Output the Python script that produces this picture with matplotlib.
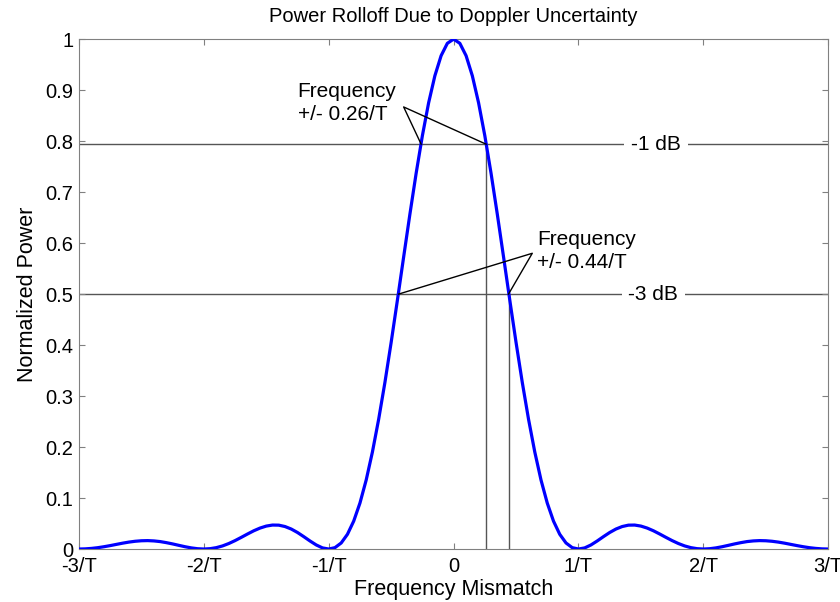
import matplotlib
matplotlib.use("Agg")
import matplotlib.pyplot as plt
import numpy as np

plt.rcParams['font.family'] = ['Liberation Sans', 'DejaVu Sans']

#-------------------- DATA -------------------#
# frequency mismatch (in units of 1/T) and normalized power
freq = [-3.0, -2.95, -2.9, -2.85, -2.8, -2.75, -2.7, -2.65, -2.6, -2.55,
        -2.5, -2.45, -2.4, -2.35, -2.3, -2.25, -2.2, -2.15, -2.1, -2.05,
        -2.0, -1.95, -1.9, -1.85, -1.8, -1.75, -1.7, -1.65, -1.6, -1.55,
        -1.5, -1.45, -1.4, -1.35, -1.3, -1.25, -1.2, -1.15, -1.1, -1.05,
        -1.0, -0.95, -0.9, -0.85, -0.8, -0.75, -0.7, -0.65, -0.6, -0.55,
        -0.5, -0.45, -0.4, -0.35, -0.3, -0.25, -0.2, -0.15, -0.1, -0.05,
        0.0,
        0.05, 0.1, 0.15, 0.2, 0.25, 0.3, 0.35, 0.4, 0.45, 0.5,
        0.55, 0.6, 0.65, 0.7, 0.75, 0.8, 0.85, 0.9, 0.95, 1.0,
        1.05, 1.1, 1.15, 1.2, 1.25, 1.3, 1.35, 1.4, 1.45, 1.5,
        1.55, 1.6, 1.65, 1.7, 1.75, 1.8, 1.85, 1.9, 1.95, 2.0,
        2.05, 2.1, 2.15, 2.2, 2.25, 2.3, 2.35, 2.4, 2.45, 2.5,
        2.55, 2.6, 2.65, 2.7, 2.75, 2.8, 2.85, 2.9, 2.95, 3.0]
power = [0.0, 0.0003, 0.0012, 0.0026, 0.0045, 0.0067, 0.0091, 0.0115, 0.0136, 0.0152,
         0.0162, 0.0165, 0.0159, 0.0146, 0.0125, 0.0100, 0.0072, 0.0045, 0.0022, 0.0006,
         0.0, 0.0007, 0.0027, 0.0061, 0.0108, 0.0165, 0.0229, 0.0295, 0.0358, 0.0411,
         0.0450, 0.0470, 0.0468, 0.0441, 0.0392, 0.0324, 0.0243, 0.0158, 0.0080, 0.0022,
         0.0, 0.0027, 0.0119, 0.0289, 0.0547, 0.0901, 0.1353, 0.1904, 0.2546, 0.3267,
         0.4053, 0.4881, 0.5728, 0.6566, 0.7368, 0.8106, 0.8751, 0.9281, 0.9675, 0.9918,
         1.0,
         0.9918, 0.9675, 0.9281, 0.8751, 0.8106, 0.7368, 0.6566, 0.5728, 0.4881, 0.4053,
         0.3267, 0.2546, 0.1904, 0.1353, 0.0901, 0.0547, 0.0289, 0.0119, 0.0027, 0.0,
         0.0022, 0.0080, 0.0158, 0.0243, 0.0324, 0.0392, 0.0441, 0.0468, 0.0470, 0.0450,
         0.0411, 0.0358, 0.0295, 0.0229, 0.0165, 0.0108, 0.0061, 0.0027, 0.0007, 0.0,
         0.0006, 0.0022, 0.0045, 0.0072, 0.0100, 0.0125, 0.0146, 0.0159, 0.0165, 0.0162,
         0.0152, 0.0136, 0.0115, 0.0091, 0.0067, 0.0045, 0.0026, 0.0012, 0.0003, 0.0]

db_levels = [0.794, 0.5]          # -1 dB and -3 dB power
db_labels = ['-1 dB', '-3 dB']
db_label_x = [1.62, 1.60]
half_widths = [0.26, 0.44]        # frequency offsets where the levels are crossed
ann_labels = ['Frequency\n+/- 0.26/T', 'Frequency\n+/- 0.44/T']
ann_vertex = [(-0.40, 0.867), (0.63, 0.580)]
ann_text_pos = [(-1.25, 0.915), (0.67, 0.625)]

xtick_vals = [-3, -2, -1, 0, 1, 2, 3]
xtick_labels = ['-3/T', '-2/T', '-1/T', '0', '1/T', '2/T', '3/T']
ytick_vals = [0, 0.1, 0.2, 0.3, 0.4, 0.5, 0.6, 0.7, 0.8, 0.9, 1]
ytick_labels = ['0', '0.1', '0.2', '0.3', '0.4', '0.5', '0.6', '0.7', '0.8', '0.9', '1']

#------------------ PLOT -------------------#
fig = plt.figure(figsize=(8.4, 6.02), dpi=100)
ax = fig.add_axes([0.094, 0.088, 0.892, 0.847])

gray = '#555555'
for lvl, lab, lx in zip(db_levels, db_labels, db_label_x):
    ax.axhline(lvl, color=gray, lw=1.0, zorder=1)
    ax.text(lx, lvl, lab, ha='center', va='center', fontsize=15, zorder=3,
            bbox=dict(facecolor='white', edgecolor='none', pad=5))

for hw, lvl in zip(half_widths, db_levels):
    ax.plot([hw, hw], [0, lvl], color=gray, lw=1.0, zorder=1)

ax.plot(freq, power, color='#0000ff', lw=2.3, zorder=4)

for hw, lvl, lab, v, tp in zip(half_widths, db_levels, ann_labels, ann_vertex, ann_text_pos):
    ax.plot([-hw, v[0], hw], [lvl, v[1], lvl], color='black', lw=1.0, zorder=5)
    ax.text(tp[0], tp[1], lab, ha='left', va='top', fontsize=15, linespacing=1.25, zorder=5)

ax.set_xlim(-3, 3)
ax.set_ylim(0, 1)
ax.set_xticks(xtick_vals)
ax.set_xticklabels(xtick_labels)
ax.set_yticks(ytick_vals)
ax.set_yticklabels(ytick_labels)
ax.tick_params(direction='in', top=True, right=True, length=4, labelsize=14.5,
               color='#808080')
ax.tick_params(axis='x', pad=6)
ax.tick_params(axis='y', pad=4)
for sp in ax.spines.values():
    sp.set_color('#808080')

ax.set_title('Power Rolloff Due to Doppler Uncertainty', fontsize=14.5, pad=12)
ax.set_xlabel('Frequency Mismatch', fontsize=15.5, labelpad=2)
ax.set_ylabel('Normalized Power', fontsize=15.5, labelpad=5)

plt.savefig('out.png')
